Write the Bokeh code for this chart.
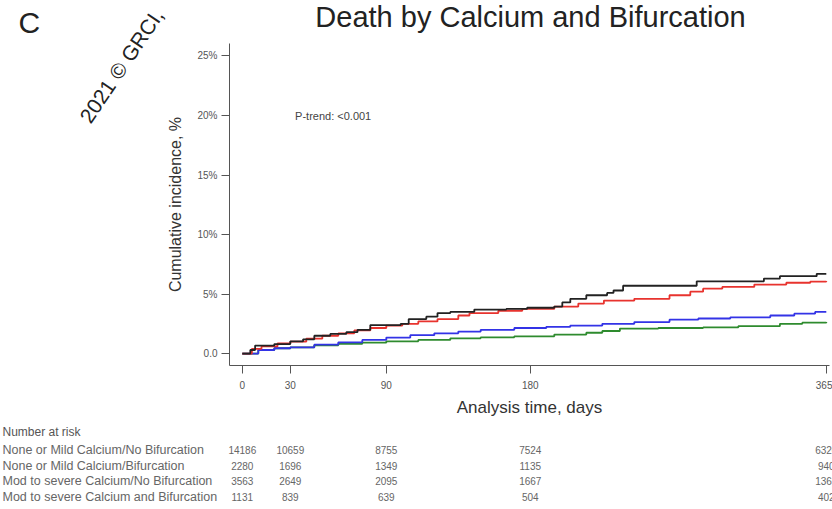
from bokeh.plotting import figure
from bokeh.models import Range1d, FixedTicker, Label, ColumnDataSource
from bokeh.core.properties import value
from bokeh.embed import file_html
from bokeh.resources import INLINE

# ---------------- data ----------------
black_days = [0, 5, 8, 20, 30, 38, 45, 55, 65, 72, 80, 99, 104, 115, 122, 130, 145, 165, 178, 195, 200, 205, 215, 228, 232, 238, 284, 326, 336, 359, 365]
black_pct = [0, 0.3, 0.67, 0.8, 1.03, 1.2, 1.5, 1.65, 1.8, 2.0, 2.4, 2.5, 2.9, 3.1, 3.4, 3.5, 3.7, 3.75, 3.85, 3.95, 4.3, 4.6, 4.9, 5.1, 5.3, 5.7, 6.07, 6.3, 6.5, 6.7, 6.7]

red_days = [0, 6, 12, 22, 30, 40, 50, 60, 70, 80, 90, 100, 110, 122, 135, 142, 160, 175, 195, 210, 226, 245, 267, 280, 288, 300, 320, 340, 355, 365]
red_pct = [0, 0.4, 0.6, 0.85, 1.0, 1.25, 1.5, 1.7, 1.95, 2.15, 2.35, 2.5, 2.7, 2.9, 3.2, 3.4, 3.6, 3.75, 3.95, 4.2, 4.45, 4.6, 4.9, 5.2, 5.45, 5.6, 5.8, 5.95, 6.05, 6.1]

blue_days = [0, 10, 20, 30, 45, 60, 75, 90, 105, 120, 135, 149, 170, 190, 205, 225, 245, 267, 285, 305, 330, 345, 358, 365]
blue_pct = [0, 0.3, 0.45, 0.53, 0.75, 0.95, 1.15, 1.35, 1.55, 1.7, 1.85, 2.0, 2.15, 2.25, 2.35, 2.5, 2.65, 2.85, 2.95, 3.05, 3.2, 3.35, 3.5, 3.5]

green_days = [0, 10, 20, 30, 45, 60, 75, 90, 110, 130, 149, 170, 195, 215, 225, 236, 260, 288, 310, 336, 350, 365]
green_pct = [0, 0.3, 0.45, 0.53, 0.7, 0.82, 0.92, 1.03, 1.15, 1.28, 1.37, 1.45, 1.6, 1.75, 1.9, 2.1, 2.15, 2.2, 2.3, 2.5, 2.6, 2.65]

x_ticks = [0, 30, 90, 180, 365]
y_ticks = [0, 5, 10, 15, 20, 25]
y_tick_labels = ["0.0", "5%", "10%", "15%", "20%", "25%"]

risk_groups = [
    "None or Mild Calcium/No Bifurcation",
    "None or Mild Calcium/Bifurcation",
    "Mod to severe Calcium/No Bifurcation",
    "Mod to severe Calcium and Bifurcation",
]
risk_days = [0, 30, 90, 180, 365]
risk_row1 = [14186, 10659, 8755, 7524, 6320]
risk_row2 = [2280, 1696, 1349, 1135, 940]
risk_row3 = [3563, 2649, 2095, 1667, 1365]
risk_row4 = [1131, 839, 639, 504, 402]

# ---------------- layout ----------------
W, H = 832, 509
# plot area (page pixels) and its data limits
AL, AR, AT, AB = 229, 829, 43, 365
XA0, XA1 = -8, 367
YA0, YA1 = -1.0, 26.05

def dx(px):
    return XA0 + (px - AL) / (AR - AL) * (XA1 - XA0)

def dy(py):
    return YA1 - (py - AT) / (AB - AT) * (YA1 - YA0)

FONT = "Liberation Sans"

p = figure(width=W, height=H, output_backend="svg", toolbar_location=None,
           x_range=Range1d(dx(0), dx(W)), y_range=Range1d(dy(H), dy(0)),
           min_border=0)
p.outline_line_color = None
p.xgrid.visible = False
p.ygrid.visible = False
p.background_fill_color = "white"
p.border_fill_color = "white"

# axes (placed inside the canvas at the plot-area edges)
for ax in (p.xaxis[0], p.yaxis[0]):
    ax.axis_line_color = "#555555"
    ax.major_tick_line_color = "#555555"
    ax.minor_tick_line_color = None
    ax.major_tick_in = 0
    ax.major_tick_out = 8
    ax.major_label_text_font = FONT
    ax.major_label_text_font_size = "10px"
    ax.major_label_text_color = "#555555"
    ax.axis_label_text_font = FONT
    ax.axis_label_text_font_style = "normal"
    ax.axis_label_text_color = "#333333"

p.xaxis.fixed_location = YA0
p.xaxis.bounds = (XA0, XA1)
p.xaxis.ticker = FixedTicker(ticks=x_ticks)
p.xaxis.major_label_standoff = 7
p.xaxis.axis_label = "Analysis time, days"
p.xaxis.axis_label_text_font_size = "17px"
p.xaxis.axis_label_standoff = 6

p.yaxis.fixed_location = XA0
p.yaxis.bounds = (YA0, YA1)
p.yaxis.ticker = FixedTicker(ticks=y_ticks)
p.yaxis.major_label_overrides = {t: l for t, l in zip(y_ticks, y_tick_labels)}
p.yaxis.major_label_standoff = 4
p.yaxis.axis_label = "Cumulative incidence, %"
p.yaxis.axis_label_text_font_size = "16px"
p.yaxis.axis_label_standoff = 10

# curves
p.step(green_days, green_pct, mode="after", line_color="#2e8b2e", line_width=1.8)
p.step(blue_days, blue_pct, mode="after", line_color="#3333e6", line_width=1.8)
p.step(red_days, red_pct, mode="after", line_color="#e8332e", line_width=1.8)
p.step(black_days, black_pct, mode="after", line_color="#222222", line_width=1.8)

# texts
p.add_layout(Label(x=33, y=20, text="P-trend: <0.001", text_font=FONT,
                   text_font_size="11px", text_color="#444444",
                   text_baseline="middle", text_align="left"))
p.add_layout(Label(x=dx(530), y=dy(16), text="Death by Calcium and Bifurcation",
                   text_font=FONT, text_font_size="29px", text_color="#222222",
                   text_align="center", text_baseline="middle"))
p.add_layout(Label(x=dx(18), y=dy(22), text="C", text_font=FONT,
                   text_font_size="30px", text_color="#222222",
                   text_align="left", text_baseline="middle"))
p.add_layout(Label(x=dx(84), y=dy(120), text="2021 © GRCI,", text_font=FONT,
                   text_font_size="21px", text_color="#222222", angle=56,
                   angle_units="deg", text_align="left", text_baseline="alphabetic"))

# number at risk table
p.add_layout(Label(x=dx(2), y=dy(431), text="Number at risk", text_font=FONT,
                   text_font_size="12px", text_color="#555555",
                   text_align="left", text_baseline="middle"))
row_py = [449.5, 465, 480.5, 496]
rows = [risk_row1, risk_row2, risk_row3, risk_row4]
for name, vals, py in zip(risk_groups, rows, row_py):
    p.add_layout(Label(x=dx(2), y=dy(py), text=name, text_font=FONT,
                       text_font_size="12.5px", text_color="#666666",
                       text_align="left", text_baseline="middle"))
    src = ColumnDataSource(dict(x=risk_days, y=[dy(py)] * len(risk_days),
                                t=[str(v) for v in vals]))
    p.text(x="x", y="y", text="t", source=src, text_font=value(FONT),
           text_font_size="10px", text_color="#666666",
           text_align="center", text_baseline="middle")

open("out.html", "w").write(file_html(p, INLINE))
